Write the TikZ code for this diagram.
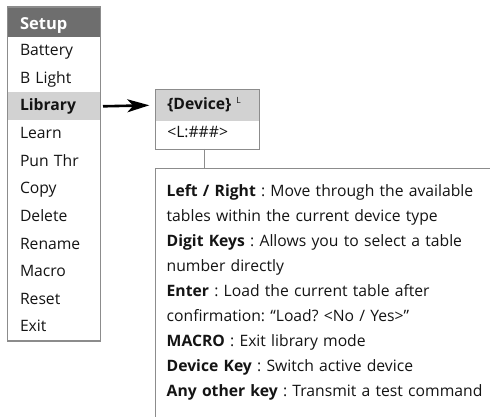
\documentclass[tikz,border=0pt]{standalone}
\usepackage{fontspec}
\setmainfont{Open Sans}
\usetikzlibrary{positioning,arrows.meta}
\definecolor{hdr}{HTML}{6E6E6E}
\definecolor{hil}{HTML}{D2D2D2}
\definecolor{bord}{HTML}{8C8C8C}
\definecolor{ink}{HTML}{141414}
\begin{document}
\frenchspacing
\begin{tikzpicture}[x=1pt,y=-1pt,
  menurow/.style={minimum width=93pt, minimum height=27.6pt, inner xsep=12.5pt,
    inner ysep=0pt, text width=68pt, align=left, text height=13.4pt, text depth=4pt,
    font=\fontsize{15.7}{20}\selectfont, text=ink, outer sep=0pt},
  menuhead/.style={menurow, fill=hdr, text=white, minimum height=30.3pt,
    text height=17pt, text depth=2.4pt, font=\fontsize{16.5}{20}\selectfont\bfseries},
  devrow/.style={minimum width=104pt, inner xsep=12pt, inner ysep=0pt,
    text width=80pt, align=left, font=\fontsize{15.7}{20}\selectfont, text=ink, outer sep=0pt},
  border/.style={draw=bord, line width=1.4pt},
  link/.style={draw=bord, line width=1.2pt},
  bigarrow/.style={draw=black, line width=2.6pt, -{Stealth[length=22pt,width=13pt,inset=6pt]}},
  helptext/.style={inner sep=0pt, text width=330pt, align=left,
    font=\fontsize{15.7}{24.9}\selectfont, text=ink}
]
\useasboundingbox (0,0) rectangle (490,417);
\fill[white] (0,0) rectangle (490,417);

% Setup menu
\node[menuhead, anchor=north west] (setup) at (7.5,7) {Setup};
\node[menurow, below=0pt of setup] (battery) {Battery};
\node[menurow, below=0pt of battery] (blight) {B Light};
\node[menurow, below=0pt of blight, fill=hil] (library) {\textbf{Library}};
\node[menurow, below=0pt of library] (learn) {Learn};
\node[menurow, below=0pt of learn] (punthr) {Pun Thr};
\node[menurow, below=0pt of punthr] (copy) {Copy};
\node[menurow, below=0pt of copy] (delete) {Delete};
\node[menurow, below=0pt of delete] (rename) {Rename};
\node[menurow, below=0pt of rename] (macro) {Macro};
\node[menurow, below=0pt of macro] (reset) {Reset};
\node[menurow, below=0pt of reset] (exit) {Exit};
\draw[border] (setup.north west) rectangle (exit.south east);

% Device box
\node[devrow, anchor=north west, fill=hil, minimum height=32pt, text height=13.8pt, text depth=5pt] (device) at (155.3,89.3)
  {\textbf{\{Device\}}\hspace{5pt}\raisebox{6.5pt}{\fontsize{8.5}{9}\selectfont L}};
\node[devrow, below=0pt of device, minimum height=28pt, text height=13pt, text depth=8pt] (lnum) {<L:\#\#\#>};
\draw[border] (device.north west) rectangle (lnum.south east);

% Arrow
\draw[bigarrow] ([xshift=2.5pt]library.east) -- ([xshift=-6pt]device.west);

% Help box
\coordinate (boxtl) at (155.3,168.7);
\coordinate (boxbl) at (155.3,420);
\coordinate (boxtr) at (492,168.7);
\draw[border] (boxbl) -- (boxtl) -- (boxtr);
\coordinate (linktop) at (204.3,149);
\coordinate (linkbot) at (204.3,168.7);
\draw[link] (linktop) -- (linkbot);

\node[helptext, anchor=north west] (help) at (166.5,183.4) {%
\rule{0pt}{13.3pt}\textbf{Left / Right} : Move through the available\\
tables within the current device type\\
\textbf{Digit Keys} : Allows you to select a table\\
number directly\\
\textbf{Enter} : Load the current table after\\
confirmation: “Load? <No / Yes>”\\
\textbf{MACRO} : Exit library mode\\
\textbf{Device Key} : Switch active device\\
\textbf{Any other key} : Transmit a test command};
\end{tikzpicture}
\end{document}
